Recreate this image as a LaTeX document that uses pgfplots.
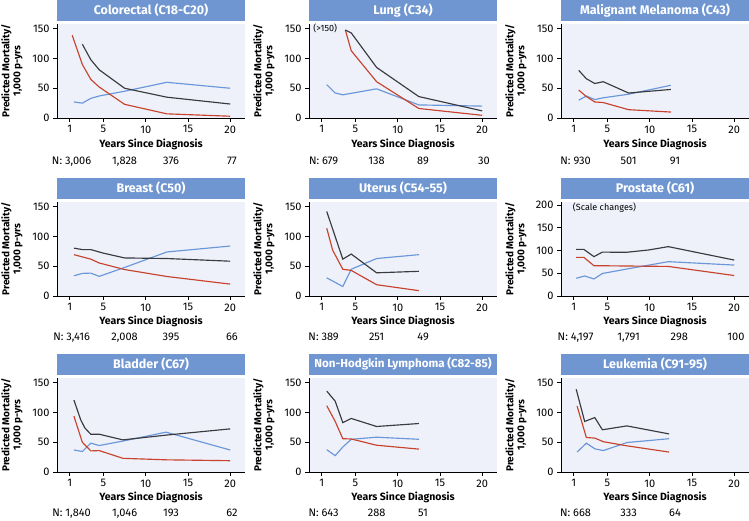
\documentclass[border=0pt]{standalone}
\usepackage{fontspec}
\setmainfont{Fira Sans}
\usepackage{pgfplots}
\pgfplotsset{compat=1.18}
\definecolor{bgcol}{HTML}{EEF1F9}
\definecolor{titlecol}{HTML}{6F96D1}
\definecolor{cblack}{HTML}{3A3A40}
\definecolor{cred}{HTML}{C8432D}
\definecolor{cblue}{HTML}{6A96DA}
\pgfplotsset{
  panel/.style={
    width=188pt, height=94pt, scale only axis,
    xmin=-0.5, xmax=21.75, ymin=0, ymax=158,
    axis lines=left, axis line style={-, line width=0.8pt, black},
    xtick={1,5,10,15,20}, ytick={0,50,100,150},
    tick align=outside, major tick length=4pt,
    tick style={line width=0.8pt, black},
    tick label style={font=\fontsize{11}{13}\selectfont},
    /pgf/number format/assume math mode=true,
    clip=false,
    axis background/.style={fill=bgcol},
    every axis plot/.append style={line width=1.15pt, mark=none},
  },
  panelB/.style={panel, ymax=206.6, ytick={0,50,100,150,200}},
}
\newcommand\paneltitle[1]{%
  \fill[titlecol] ([yshift=3pt]rel axis cs:0,1) rectangle ([yshift=24.5pt]rel axis cs:1,1);
  \node[text=white, font=\fontsize{12.5}{14}\selectfont\bfseries] at ([yshift=13.75pt]rel axis cs:0.5,1) {#1};
  \node[rotate=90, align=center, font=\fontsize{10}{11}\selectfont\bfseries] at ([xshift=-45pt]rel axis cs:0,0.5) {Predicted Mortality/\\1,000 p-yrs};
}
\newcommand\xlab[1]{%
  \node[anchor=base, font=\fontsize{10.5}{12}\selectfont\bfseries] at ([yshift=#1]rel axis cs:0.5,0) {Years Since Diagnosis};
}
\newcommand\nlab[3]{%
  \node[anchor=base, font=\fontsize{11}{13}\selectfont] at ([yshift=#1]axis cs:#2,0) {#3};
}
\begin{document}
\begin{tikzpicture}
\path[use as bounding box] (0,0) rectangle (749pt,-520pt);
% ---------- Row 1 ----------
\begin{axis}[panel, at={(57pt,-118pt)}, anchor=south west]
\addplot[cblue] coordinates {(1.5,27)(2.5,25)(3.5,33)(4.5,37)(7.5,45)(12.5,60)(20,50)};
\addplot[cred] coordinates {(1.3,139)(2.5,90)(3.5,65)(4.5,52)(7.5,23)(12.5,7)(20,3)};
\addplot[cblack] coordinates {(2.5,124)(3.5,98)(4.5,81)(7.5,50)(12.5,35)(20,23.5)};
\paneltitle{Colorectal (C18-C20)}
\xlab{-29pt}
\nlab{-46pt}{2}{\llap{N: }3,006}\nlab{-46pt}{7.5}{1,828}\nlab{-46pt}{13}{376}\nlab{-46pt}{20.2}{77}
\end{axis}
\begin{axis}[panel, at={(309pt,-118pt)}, anchor=south west]
\addplot[cblue] coordinates {(1.6,56)(2.6,42)(3.5,39)(7.5,49)(12.5,22)(20,20)};
\addplot[cred] coordinates {(3.8,148)(4.5,113)(7.5,61)(12.5,16)(20,4.5)};
\addplot[cblack] coordinates {(3.8,148)(4.5,143)(7.5,85)(12.5,36)(20,12)};
\node[anchor=west, font=\fontsize{9}{10}\selectfont] at (axis cs:-0.4,150) {(>150)};
\paneltitle{Lung (C34)}
\xlab{-29pt}
\nlab{-46pt}{2}{\llap{N: }679}\nlab{-46pt}{7.5}{138}\nlab{-46pt}{13}{89}\nlab{-46pt}{20.2}{30}
\end{axis}
\begin{axis}[panel, at={(561pt,-118pt)}, anchor=south west]
\addplot[cblue] coordinates {(1.6,30)(2.5,37)(3.5,31)(4.5,34)(7.5,40)(12.5,55)};
\addplot[cred] coordinates {(1.6,47)(2.5,36)(3.5,27)(4.5,26)(7.5,14)(12.5,10)};
\addplot[cblack] coordinates {(1.6,80)(2.5,66)(3.5,58)(4.5,61)(7.5,42)(12.5,48)};
\paneltitle{Malignant Melanoma (C43)}
\xlab{-29pt}
\nlab{-46pt}{2}{\llap{N: }930}\nlab{-46pt}{7.5}{501}\nlab{-46pt}{13}{91}
\end{axis}
% ---------- Row 2 ----------
\begin{axis}[panel, at={(57pt,-296pt)}, anchor=south west]
\addplot[cblue] coordinates {(1.5,34)(2.5,38)(3.5,38.5)(4.5,33)(7.5,48)(12.5,74)(20,84)};
\addplot[cred] coordinates {(1.5,69.5)(3.5,62)(4.5,55.5)(7.5,44.5)(12.5,32.8)(20,20)};
\addplot[cblack] coordinates {(1.5,80.5)(2.5,78)(3.5,78)(5,72)(7.5,64)(12.5,63)(20,58.5)};
\paneltitle{Breast (C50)}
\xlab{-28pt}
\nlab{-44pt}{2}{\llap{N: }3,416}\nlab{-44pt}{7.5}{2,008}\nlab{-44pt}{13}{395}\nlab{-44pt}{20.2}{66}
\end{axis}
\begin{axis}[panel, at={(309pt,-296pt)}, anchor=south west]
\addplot[cblue] coordinates {(1.6,30.5)(3.5,16)(4.5,45)(7.5,63)(12.5,69.5)};
\addplot[cred] coordinates {(1.6,114)(2.3,77)(3.5,45)(4.5,43)(7.5,19)(12.5,9)};
\addplot[cblack] coordinates {(1.6,142)(3.5,62)(4.5,70.5)(7.5,39)(12.5,41.5)};
\paneltitle{Uterus (C54-55)}
\xlab{-28pt}
\nlab{-44pt}{2}{\llap{N: }389}\nlab{-44pt}{7.5}{251}\nlab{-44pt}{13}{49}
\end{axis}
\begin{axis}[panelB, at={(561pt,-296pt)}, anchor=south west]
\addplot[cblue] coordinates {(1.3,39)(2.3,44)(3.4,37.5)(4.4,49.5)(7.5,60)(12.2,75.5)(20,68)};
\addplot[cred] coordinates {(1.3,85)(2.2,85)(3.4,66.5)(4.4,66.5)(12.2,65)(20,45)};
\addplot[cblack] coordinates {(1.3,102.5)(2.2,102.5)(3.4,86.5)(4.4,96.5)(7.2,96)(9.8,101)(12.2,108.5)(20,79)};
\node[anchor=west, font=\fontsize{9}{10}\selectfont] at (axis cs:0.5,195) {(Scale changes)};
\paneltitle{Prostate (C61)}
\xlab{-28pt}
\nlab{-44pt}{2}{\llap{N: }4,197}\nlab{-44pt}{7.5}{1,791}\nlab{-44pt}{13.5}{298}\nlab{-44pt}{20.2}{100}
\end{axis}
% ---------- Row 3 ----------
\begin{axis}[panel, at={(57pt,-472pt)}, anchor=south west]
\addplot[cblue] coordinates {(1.5,37)(2.5,34.5)(3.5,48.5)(4.5,44.5)(7.3,52)(12.4,67)(20,37)};
\addplot[cred] coordinates {(1.5,94)(2.5,50)(3.5,35.5)(4.5,36)(7.3,23)(12.4,20.5)(20,19)};
\addplot[cblack] coordinates {(1.5,121)(2.3,88)(2.8,74)(3.5,63.5)(4.5,63.5)(7.3,54)(12.4,62)(20,72.5)};
\paneltitle{Bladder (C67)}
\xlab{-28pt}
\nlab{-44pt}{2}{\llap{N: }1,840}\nlab{-44pt}{7.5}{1,046}\nlab{-44pt}{13}{193}\nlab{-44pt}{20.2}{62}
\end{axis}
\begin{axis}[panel, at={(309pt,-472pt)}, anchor=south west]
\addplot[cblue] coordinates {(1.6,37.5)(2.6,27.5)(3.5,42)(4.5,55)(7.5,58.5)(12.5,55)};
\addplot[cred] coordinates {(1.6,111.5)(2.6,85)(3.5,56)(4.5,55.5)(7.5,45)(12.5,38.5)};
\addplot[cblack] coordinates {(1.6,136)(2.6,119)(3.5,83)(4.5,90)(7.5,76.5)(12.5,81.5)};
\paneltitle{\fontsize{11.6}{14}\selectfont Non-Hodgkin Lymphoma (C82-85)}
\xlab{-28pt}
\nlab{-44pt}{2}{\llap{N: }643}\nlab{-44pt}{7.5}{288}\nlab{-44pt}{13}{51}
\end{axis}
\begin{axis}[panel, at={(561pt,-472pt)}, anchor=south west]
\addplot[cblue] coordinates {(1.4,33.5)(2.5,48.5)(3.5,39)(4.5,36)(7.3,49.5)(12.3,56)};
\addplot[cred] coordinates {(1.4,111)(2.5,58)(3.5,57)(4.5,51)(7.3,44)(12.3,33.5)};
\addplot[cblack] coordinates {(1.3,139)(2.3,85)(3.5,91.5)(4.4,71)(7.3,77.5)(12.3,64)};
\paneltitle{Leukemia (C91-95)}
\xlab{-28pt}
\nlab{-44pt}{2}{\llap{N: }668}\nlab{-44pt}{7.5}{333}\nlab{-44pt}{13}{64}
\end{axis}
\end{tikzpicture}
\end{document}
